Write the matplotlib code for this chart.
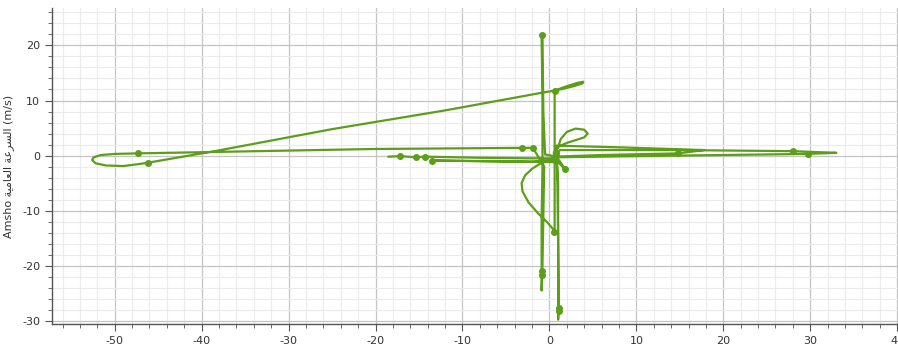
import matplotlib.pyplot as plt
from matplotlib.ticker import MultipleLocator

# trajectory (x, y) in m/s
path_x = [-18.5, -17.2, -15.4, -14.3, -8.0, -2.0, 0.3, 0.8,
          1.0, 1.0, 1.0, 1.0, 1.1, 1.0, 0.9, 0.8,
          8.0, 17.8, 14.8, 6.0, 0.6, 1.2,
          15.0, 28.0, 33.0, 29.7, 15.0, 1.2, -0.5,
          -0.7, -0.8, -0.9, -0.8, -0.8, -0.9, -0.9, -0.9, -0.8, -0.6,
          -1.9, -3.2, -20.0, -47.3, -50.0, -51.6, -52.4, -52.6, -52.2, -51.0,
          -49.0, -47.5, -46.2,
          -38.5, -25.0, -12.0, -0.9, 0.6, 2.0, 3.2, 3.9, 3.8, 2.8, 1.5, 0.6,
          0.6, 0.6, 0.6, -0.2, -1.3, -2.4, -3.1, -3.2, -2.8, -2.0, -1.0, 0.2,
          1.0, 1.3, 2.0, 3.0, 4.0, 4.4, 4.0, 3.0, 2.0, 1.0, 0.5,
          1.4, 1.8, 1.0, -13.5, -8.0, -2.0, 0.5, 1.0]
path_y = [-0.2, -0.1, -0.3, -0.2, -0.4, -0.5, -0.5, 0.5,
          -5.0, -20.0, -27.8, -29.8, -27.6, -15.0, -3.0, 1.8,
          1.5, 1.0, 0.4, 0.1, -0.2, 1.0,
          1.0, 0.8, 0.5, 0.3, 0.0, -0.3, 0.2,
          8.0, 21.9, 21.6, 10.0, -2.0, -12.0, -21.0, -24.5, -20.0, -2.0,
          1.4, 1.4, 1.2, 0.4, 0.3, 0.1, -0.3, -0.8, -1.4, -1.8,
          -1.9, -1.6, -1.3,
          0.8, 4.8, 8.2, 11.4, 11.8, 12.6, 13.2, 13.4, 13.1, 12.6, 12.1, 11.8,
          6.0, -5.0, -13.7, -12.2, -10.5, -8.5, -6.5, -5.0, -3.6, -2.4, -1.4, -0.8,
          1.5, 3.0, 4.3, 4.9, 4.7, 4.0, 3.3, 2.8, 2.3, 1.6, 0.5,
          -1.5, -2.5, -1.2, -0.9, -1.0, -1.1, -0.8, 0.0]

# points marked with dots
dot_x = [-47.3, -46.2, -17.2, -15.4, -14.3, -13.5, -3.2, -1.9, -0.8, 0.6,
         14.8, 28.0, 29.7, 1.8, 0.5, -0.9, -0.9, 1.1, 1.1, 0.8]
dot_y = [0.4, -1.3, -0.1, -0.3, -0.2, -0.9, 1.4, 1.4, 21.9, 11.8,
         0.4, 0.8, 0.3, -2.5, -13.8, -21.0, -21.6, -27.6, -28.2, 0.5]

green = '#5c9e1a'

plt.rcParams['axes.unicode_minus'] = False
fig = plt.figure(figsize=(8.98, 3.47), dpi=100)
ax = fig.add_axes([0.058, 0.066, 0.945, 0.911])

ax.plot(path_x, path_y, color=green, lw=1.6, solid_joinstyle='round', zorder=3)
ax.plot(dot_x, dot_y, 'o', color=green, ms=4, zorder=4)

ax.set_xlim(-57.2, 40.4)
ax.set_ylim(-30.6, 26.8)
ax.xaxis.set_major_locator(MultipleLocator(10))
ax.xaxis.set_minor_locator(MultipleLocator(2))
ax.yaxis.set_major_locator(MultipleLocator(10))
ax.yaxis.set_minor_locator(MultipleLocator(2))
ax.grid(which='major', color='#c4c4c4', lw=0.9)
ax.grid(which='minor', color='#ebebeb', lw=0.8)
ax.set_axisbelow(True)

for s in ['top', 'right']:
    ax.spines[s].set_visible(False)
for s in ['left', 'bottom']:
    ax.spines[s].set_color('#555555')
    ax.spines[s].set_linewidth(1.0)
ax.tick_params(which='major', length=5, color='#555555', labelsize=8, labelcolor='#333333')
ax.tick_params(which='minor', length=3, color='#555555')

# pre-shaped arabic, visual order (السرعة العامية)
ar = '\uFE8D\uFEDF\uFEB4\uFEAE\uFECB\uFE94 \uFE8D\uFEDF\uFECC\uFE8E\uFEE3\uFEF4\uFE94'
ax.set_ylabel('Amsho ' + ar[::-1] + ' (m/s)', fontsize=8, color='#333333', labelpad=6)

fig.savefig('out.png', dpi=100)
